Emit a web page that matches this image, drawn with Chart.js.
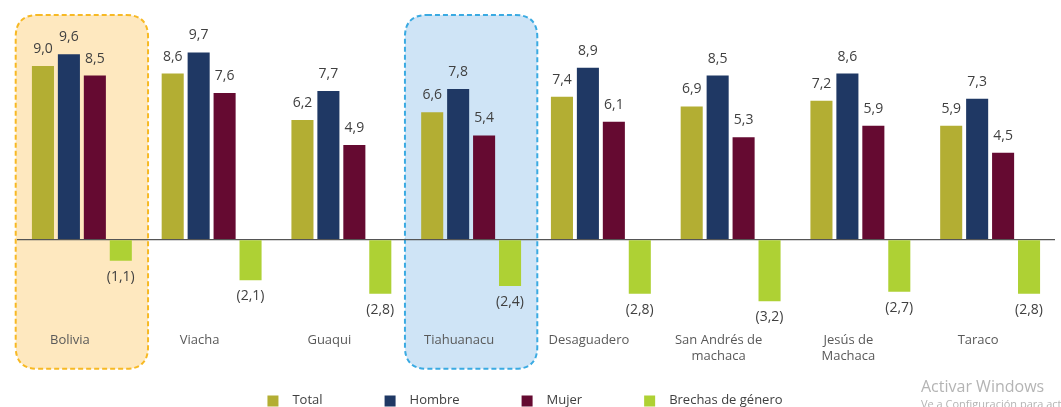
<!DOCTYPE html>
<html>
<head>
<meta charset="utf-8">
<script src="https://cdn.jsdelivr.net/npm/chart.js@4.4.1/dist/chart.umd.min.js"></script>
<style>
  html, body { margin: 0; padding: 0; background: #fff; }
  #wrap { position: relative; width: 1061px; height: 407px; }
</style>
</head>
<body>
<div id="wrap"><canvas id="grafico" width="1061" height="407"></canvas></div>
<script>
// datos
const categorias = ['Bolivia', 'Viacha', 'Guaqui', 'Tiahuanacu', 'Desaguadero',
    ['San Andrés de', 'machaca'], ['Jesús de', 'Machaca'], 'Taraco'];
const total = [9.0, 8.6, 6.2, 6.6, 7.4, 6.9, 7.2, 5.9];
const hombre = [9.6, 9.7, 7.7, 7.8, 8.9, 8.5, 8.6, 7.3];
const mujer = [8.5, 7.6, 4.9, 5.4, 6.1, 5.3, 5.9, 4.5];
const brechas = [-1.1, -2.1, -2.8, -2.4, -2.8, -3.2, -2.7, -2.8];
const series = ['Total', 'Hombre', 'Mujer', 'Brechas de género'];
const colores = ['#b3ae33', '#1f3864', '#650a31', '#aed134'];

// recuadros de resaltado: índice de categoría, relleno, borde
const resaltados = [
    { idx: 0, fill: '#fee8bf', stroke: '#f7b924' },
    { idx: 3, fill: '#cfe4f6', stroke: '#3aaae2' }
];

const FUENTE = '"Open Sans", "DejaVu Sans", sans-serif';

function formato(v) {
    const s = Math.abs(v).toFixed(1).replace('.', ',');
    return v < 0 ? '(' + s + ')' : s;
}

function rectRedondo(ctx, x, y, w, h, r) {
    ctx.beginPath();
    ctx.moveTo(x + r, y);
    ctx.lineTo(x + w - r, y);
    ctx.quadraticCurveTo(x + w, y, x + w, y + r);
    ctx.lineTo(x + w, y + h - r);
    ctx.quadraticCurveTo(x + w, y + h, x + w - r, y + h);
    ctx.lineTo(x + r, y + h);
    ctx.quadraticCurveTo(x, y + h, x, y + h - r);
    ctx.lineTo(x, y + r);
    ctx.quadraticCurveTo(x, y, x + r, y);
    ctx.closePath();
}

const pluginResaltado = {
    id: 'resaltado',
    beforeDraw(chart) {
        const ctx = chart.ctx;
        const xs = chart.scales.x;
        const area = chart.chartArea;
        const anchoCat = (area.right - area.left) / categorias.length;
        resaltados.forEach(function (r) {
            const cx = xs.getPixelForValue(r.idx);
            const left = cx - anchoCat * 0.51;
            const top = area.top + 7;
            const w = anchoCat * 1.02;
            const h = area.bottom + 52 - top;
            ctx.save();
            rectRedondo(ctx, left, top, w, h, 22);
            ctx.fillStyle = r.fill;
            ctx.fill();
            ctx.setLineDash([5, 3]);
            ctx.lineWidth = 2;
            ctx.strokeStyle = r.stroke;
            ctx.stroke();
            ctx.restore();
        });
    }
};

const pluginEtiquetas = {
    id: 'etiquetas',
    afterDatasetsDraw(chart) {
        const ctx = chart.ctx;
        ctx.save();
        ctx.font = '14px ' + FUENTE;
        ctx.fillStyle = '#404040';
        ctx.textAlign = 'center';
        ctx.textBaseline = 'middle';
        chart.data.datasets.forEach(function (ds, i) {
            const meta = chart.getDatasetMeta(i);
            meta.data.forEach(function (el, j) {
                const v = ds.data[j];
                const y = v < 0 ? el.y + 16 : el.y - 17;
                ctx.fillText(formato(v), el.x, y);
            });
        });
        ctx.restore();
    }
};

const pluginLeyenda = {
    id: 'leyendaPropia',
    afterDraw(chart) {
        const ctx = chart.ctx;
        const caja = 11, hueco = 14, separacion = 62, yc = 401;
        ctx.save();
        ctx.font = '13px ' + FUENTE;
        ctx.textBaseline = 'middle';
        ctx.textAlign = 'left';
        const anchos = chart.data.datasets.map(function (ds) {
            return caja + hueco + ctx.measureText(ds.label).width;
        });
        const totalAncho = anchos.reduce(function (a, b) { return a + b; }, 0) + separacion * (anchos.length - 1);
        let x = 525 - totalAncho / 2;
        chart.data.datasets.forEach(function (ds, i) {
            ctx.fillStyle = ds.backgroundColor;
            ctx.fillRect(x, yc - caja / 2, caja, caja);
            ctx.fillStyle = '#404040';
            ctx.fillText(ds.label, x + caja + hueco, yc - 1);
            x += anchos[i] + separacion;
        });
        // marca de agua de Windows presente en la captura
        ctx.fillStyle = '#b4b4b4';
        ctx.font = '16px ' + FUENTE;
        ctx.fillText('Activar Windows', 921, 387);
        ctx.font = '11px ' + FUENTE;
        ctx.fillText('Ve a Configuración para activar Windows.', 921, 405);
        ctx.restore();
    }
};

const ctx = document.getElementById('grafico').getContext('2d');
const chart = new Chart(ctx, {
    type: 'bar',
    data: {
        labels: categorias,
        datasets: [
            { label: series[0], data: total, backgroundColor: colores[0] },
            { label: series[1], data: hombre, backgroundColor: colores[1] },
            { label: series[2], data: mujer, backgroundColor: colores[2] },
            { label: series[3], data: brechas, backgroundColor: colores[3] }
        ]
    },
    options: {
        responsive: false,
        animation: false,
        devicePixelRatio: 1,
        categoryPercentage: 0.8,
        barPercentage: 0.85,
        layout: { padding: { left: 17, right: 6, top: 8, bottom: 27 } },
        plugins: {
            legend: { display: false },
            tooltip: { enabled: false }
        },
        scales: {
            x: {
                grid: { display: false, drawTicks: false },
                border: { display: false },
                ticks: {
                    color: '#595959',
                    font: { size: 13, family: FUENTE },
                    padding: 16,
                    labelOffset: -12,
                    maxRotation: 0,
                    autoSkip: false
                }
            },
            y: {
                display: true,
                min: -4,
                max: 12,
                ticks: { display: false, stepSize: 1 },
                border: { display: false },
                grid: {
                    drawTicks: false,
                    color: function (c) { return c.tick && c.tick.value === 0 ? '#555555' : 'rgba(0,0,0,0)'; },
                    lineWidth: 1.2
                }
            }
        }
    },
    plugins: [pluginResaltado, pluginEtiquetas, pluginLeyenda]
});
</script>
</body>
</html>
